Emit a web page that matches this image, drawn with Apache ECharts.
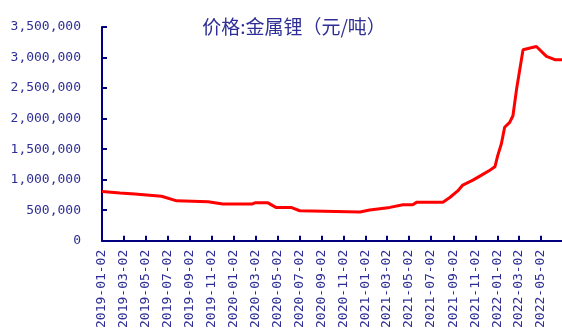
<!DOCTYPE html>
<html>
<head>
<meta charset="utf-8">
<script src="https://cdn.jsdelivr.net/npm/echarts@6/dist/echarts.min.js"></script>
<style>
html,body{margin:0;padding:0;background:#fff;}
#chart{width:562px;height:331px;}
</style>
</head>
<body>
<div id="chart"></div>
<script>
var titleText = '价格:金属锂（元/吨）';
var dates = ['2019-01-02','2019-02-21','2019-04-03','2019-06-16','2019-07-28','2019-10-23','2019-12-03','2020-02-21','2020-03-01','2020-04-06','2020-04-28','2020-06-09','2020-07-03','2020-12-17','2021-01-13','2021-03-10','2021-04-15','2021-05-12','2021-05-24','2021-08-04','2021-08-23','2021-09-14','2021-09-28','2021-10-26','2021-11-19','2021-12-12','2021-12-26','2022-01-03','2022-01-13','2022-01-22','2022-02-05','2022-02-14','2022-02-24','2022-03-05','2022-03-14','2022-04-20','2022-05-18','2022-06-10','2022-06-30'];
var prices = [805000,783000,766000,729000,653000,637000,600000,600000,620000,620000,546000,546000,491000,470000,502000,546000,588000,588000,632000,632000,708000,815000,912000,993000,1074000,1155000,1210000,1398000,1588000,1858000,1939000,2046000,2479000,2803000,3127000,3180000,3018000,2965000,2965000];
var xTickLabels = ['2019-01-02','2019-03-02','2019-05-02','2019-07-02','2019-09-02','2019-11-02','2020-01-02','2020-03-02','2020-05-02','2020-07-02','2020-09-02','2020-11-02','2021-01-02','2021-03-02','2021-05-02','2021-07-02','2021-09-02','2021-11-02','2022-01-02','2022-03-02','2022-05-02'];
var xMin = '2019-01-02';
var xMax = '2022-06-30';
var yTicks = [0,500000,1000000,1500000,2000000,2500000,3000000,3500000];

function ts(s){ return echarts.time.parse(s).getTime(); }
var tickValues = xTickLabels.map(ts);
var seriesData = dates.map(function(d,i){ return [ts(d), prices[i]]; });

var navy = '#000080';
var textColor = '#2E2E96';
var chart = echarts.init(document.getElementById('chart'));
chart.setOption({
  animation: false,
  title: {
    text: titleText,
    left: 289,
    textAlign: 'center',
    top: 12,
    textStyle: {fontFamily: 'Noto Sans CJK SC', fontSize: 19, fontWeight: 'normal', color: textColor}
  },
  grid: {left: 102, right: 0, top: 27, bottom: 88, containLabel: false},
  xAxis: {
    type: 'value',
    min: ts(xMin),
    max: ts(xMax),
    scale: true,
    splitLine: {show: false},
    axisLine: {show: true, lineStyle: {color: navy, width: 2}},
    axisTick: {show: true, inside: true, length: 5, customValues: tickValues, lineStyle: {color: navy, width: 2}},
    axisLabel: {
      customValues: tickValues,
      rotate: 90,
      margin: 9,
      fontSize: 13,
      fontFamily: 'DejaVu Sans Mono',
      color: textColor,
      formatter: function(v){ return echarts.time.format(v, '{yyyy}-{MM}-{dd}', false); }
    }
  },
  yAxis: {
    type: 'value',
    min: yTicks[0],
    max: yTicks[yTicks.length-1],
    interval: 500000,
    splitLine: {show: false},
    axisLine: {show: true, lineStyle: {color: navy, width: 2}},
    axisTick: {show: true, inside: true, length: 5, lineStyle: {color: navy, width: 2}},
    axisLabel: {
      margin: 21,
      fontSize: 13,
      fontFamily: 'DejaVu Sans Mono',
      color: textColor,
      formatter: function(v){ return echarts.format.addCommas(v); }
    }
  },
  series: [{
    type: 'line',
    data: seriesData,
    showSymbol: false,
    lineStyle: {color: '#FF0000', width: 3},
    z: 1
  }]
});
</script>
</body>
</html>
